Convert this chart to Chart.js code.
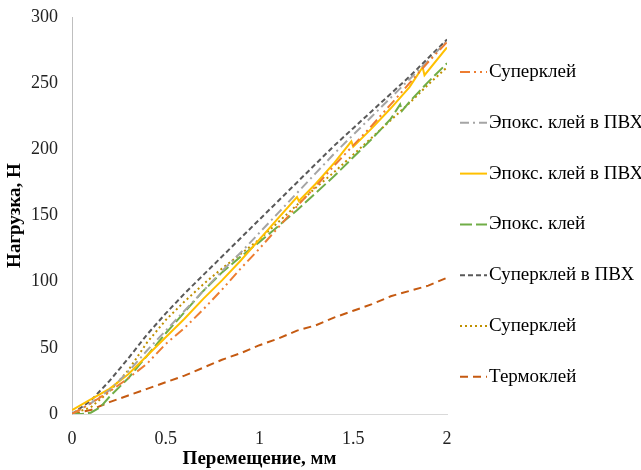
<!DOCTYPE html>
<html>
<head>
<meta charset="utf-8">
<script src="https://cdn.jsdelivr.net/npm/chart.js@4.4.0/dist/chart.umd.min.js"></script>
<style>
    html, body { margin: 0; padding: 0; background: #fff; }
    #wrap { width: 641px; height: 470px; position: relative; }
</style>
</head>
<body>
<div id="wrap"><canvas id="graph"></canvas></div>
<script>
// displacement, mm (common grid)
const xs = [0, 0.1, 0.2, 0.3, 0.4, 0.5, 0.6, 0.7, 0.8, 0.9, 1.0, 1.1, 1.2, 1.3, 1.4, 1.5, 1.6, 1.7, 1.8, 1.9, 2.0];

// load, N
const superglue1 = [0, 8, 17, 27, 38, 53, 65, 79, 94, 110, 125, 141, 157, 172, 188, 203, 218, 234, 250, 266, 281];
const epoxyPvc1 = [0, 8, 18, 32, 48, 63, 78, 93, 108, 122, 137, 152, 167, 182, 197, 211, 225, 239, 253, 267, 282];
const superPvc = [0, 10, 25, 42, 60, 76, 91, 105, 119, 133, 147, 161, 175, 189, 203, 216, 229, 242, 255, 269, 283];
const superglue2 = [0, 5, 17, 33, 54, 71, 85, 98, 110, 121, 132, 145, 158, 171, 183, 196, 209, 222, 235, 249, 262];
const thermo = [0, 3, 9, 14, 19, 24, 29, 35, 41, 46, 52, 57, 63, 67, 73, 78, 83, 89, 93, 97, 103];

// series with small drops, own x grid
const epoxyPvc2X = [0, 0.1, 0.2, 0.3, 0.4, 0.5, 0.6, 0.7, 0.8, 0.9, 1.0, 1.1, 1.2, 1.21, 1.3, 1.4, 1.49, 1.5, 1.6, 1.7, 1.8, 1.87, 1.88, 2.0];
const epoxyPvc2 = [3, 11, 19, 30, 44, 58, 72, 87, 101, 116, 132, 148, 164, 161, 174, 190, 206, 202, 216, 231, 247, 262, 256, 277];

const epoxyX = [0, 0.05, 0.1, 0.15, 0.2, 0.3, 0.4, 0.5, 0.6, 0.7, 0.8, 0.9, 1.0, 1.1, 1.2, 1.3, 1.4, 1.5, 1.6, 1.7, 1.75, 1.76, 1.8, 1.9, 2.0];
const epoxy = [0, 0, 1, 5, 13, 27, 44, 61, 77, 93, 107, 119, 130, 142, 154, 167, 180, 194, 208, 223, 234, 229, 236, 251, 265];

const labels = ['Суперклей', 'Эпокс. клей в ПВХ', 'Эпокс. клей в ПВХ', 'Эпокс. клей', 'Суперклей в ПВХ', 'Суперклей', 'Термоклей'];

function pts(x, y) {
    return x.map(function(v, i) { return {x: v, y: y[i]}; });
}

function series(label, data, color, dash) {
    return {
        label: label,
        data: data,
        borderColor: color,
        backgroundColor: color,
        borderWidth: 2,
        borderDash: dash,
        pointRadius: 0,
        fill: false,
        tension: 0
    };
}

const serif = "'Liberation Serif', 'Times New Roman', serif";

// legend drawn by hand so the dash patterns show and the text fits
const sideLegend = {
    id: 'sideLegend',
    afterDraw: function(chart) {
        const ctx = chart.ctx;
        const left = chart.chartArea.right + 13;
        const top = 72;
        const step = 50.8;
        ctx.save();
        ctx.font = '19px ' + serif;
        ctx.textBaseline = 'middle';
        chart.data.datasets.forEach(function(ds, i) {
            const y = top + i * step;
            ctx.beginPath();
            ctx.setLineDash(ds.borderDash);
            ctx.strokeStyle = ds.borderColor;
            ctx.lineWidth = 2;
            ctx.moveTo(left, y);
            ctx.lineTo(left + 27, y);
            ctx.stroke();
            ctx.setLineDash([]);
            ctx.fillStyle = '#000';
            ctx.fillText(ds.label, left + 29, y);
        });
        ctx.restore();
    }
};

new Chart(document.getElementById('graph'), {
    type: 'line',
    data: {
        datasets: [
            series(labels[0], pts(xs, superglue1), '#ED7D31', [10, 4, 2, 4, 2, 4]),
            series(labels[1], pts(xs, epoxyPvc1), '#A5A5A5', [9, 4, 2, 4]),
            series(labels[2], pts(epoxyPvc2X, epoxyPvc2), '#FFC000', []),
            series(labels[3], pts(epoxyX, epoxy), '#70AD47', [12, 4]),
            series(labels[4], pts(xs, superPvc), '#595959', [5, 3]),
            series(labels[5], pts(xs, superglue2), '#BF9000', [2, 3]),
            series(labels[6], pts(xs, thermo), '#C55A11', [8, 5])
        ]
    },
    plugins: [sideLegend],
    options: {
        responsive: true,
        maintainAspectRatio: false,
        animation: false,
        layout: { padding: { top: 17, right: 194, left: 4, bottom: 0 } },
        plugins: {
            tooltip: { enabled: false },
            legend: { display: false }
        },
        scales: {
            x: {
                type: 'linear',
                min: 0,
                max: 2,
                afterFit: function(scale) {
                    scale.height = 56;
                    scale.paddingLeft = 0;
                    scale.paddingRight = 0;
                },
                ticks: {
                    stepSize: 0.5,
                    padding: 14,
                    color: '#222',
                    font: { family: serif, size: 18 },
                    callback: function(v) { return String(v); }
                },
                grid: { display: false, drawTicks: false },
                border: { color: '#D9D9D9', width: 1 },
                title: {
                    display: true,
                    text: 'Перемещение, мм',
                    color: '#000',
                    padding: { top: 2, bottom: 0 },
                    font: { family: serif, size: 19, weight: 'bold' }
                }
            },
            y: {
                min: 0,
                max: 300,
                afterFit: function(scale) {
                    scale.width = 68;
                    scale.paddingTop = 0;
                    scale.paddingBottom = 0;
                },
                ticks: { stepSize: 50, color: '#222', padding: 14, font: { family: serif, size: 18 } },
                grid: { display: false, drawTicks: false },
                border: { color: '#BFBFBF', width: 1 },
                title: {
                    display: true,
                    text: 'Нагрузка, Н',
                    color: '#000',
                    padding: { top: 0, bottom: 0 },
                    font: { family: serif, size: 19, weight: 'bold' }
                }
            }
        }
    }
});
</script>
</body>
</html>
